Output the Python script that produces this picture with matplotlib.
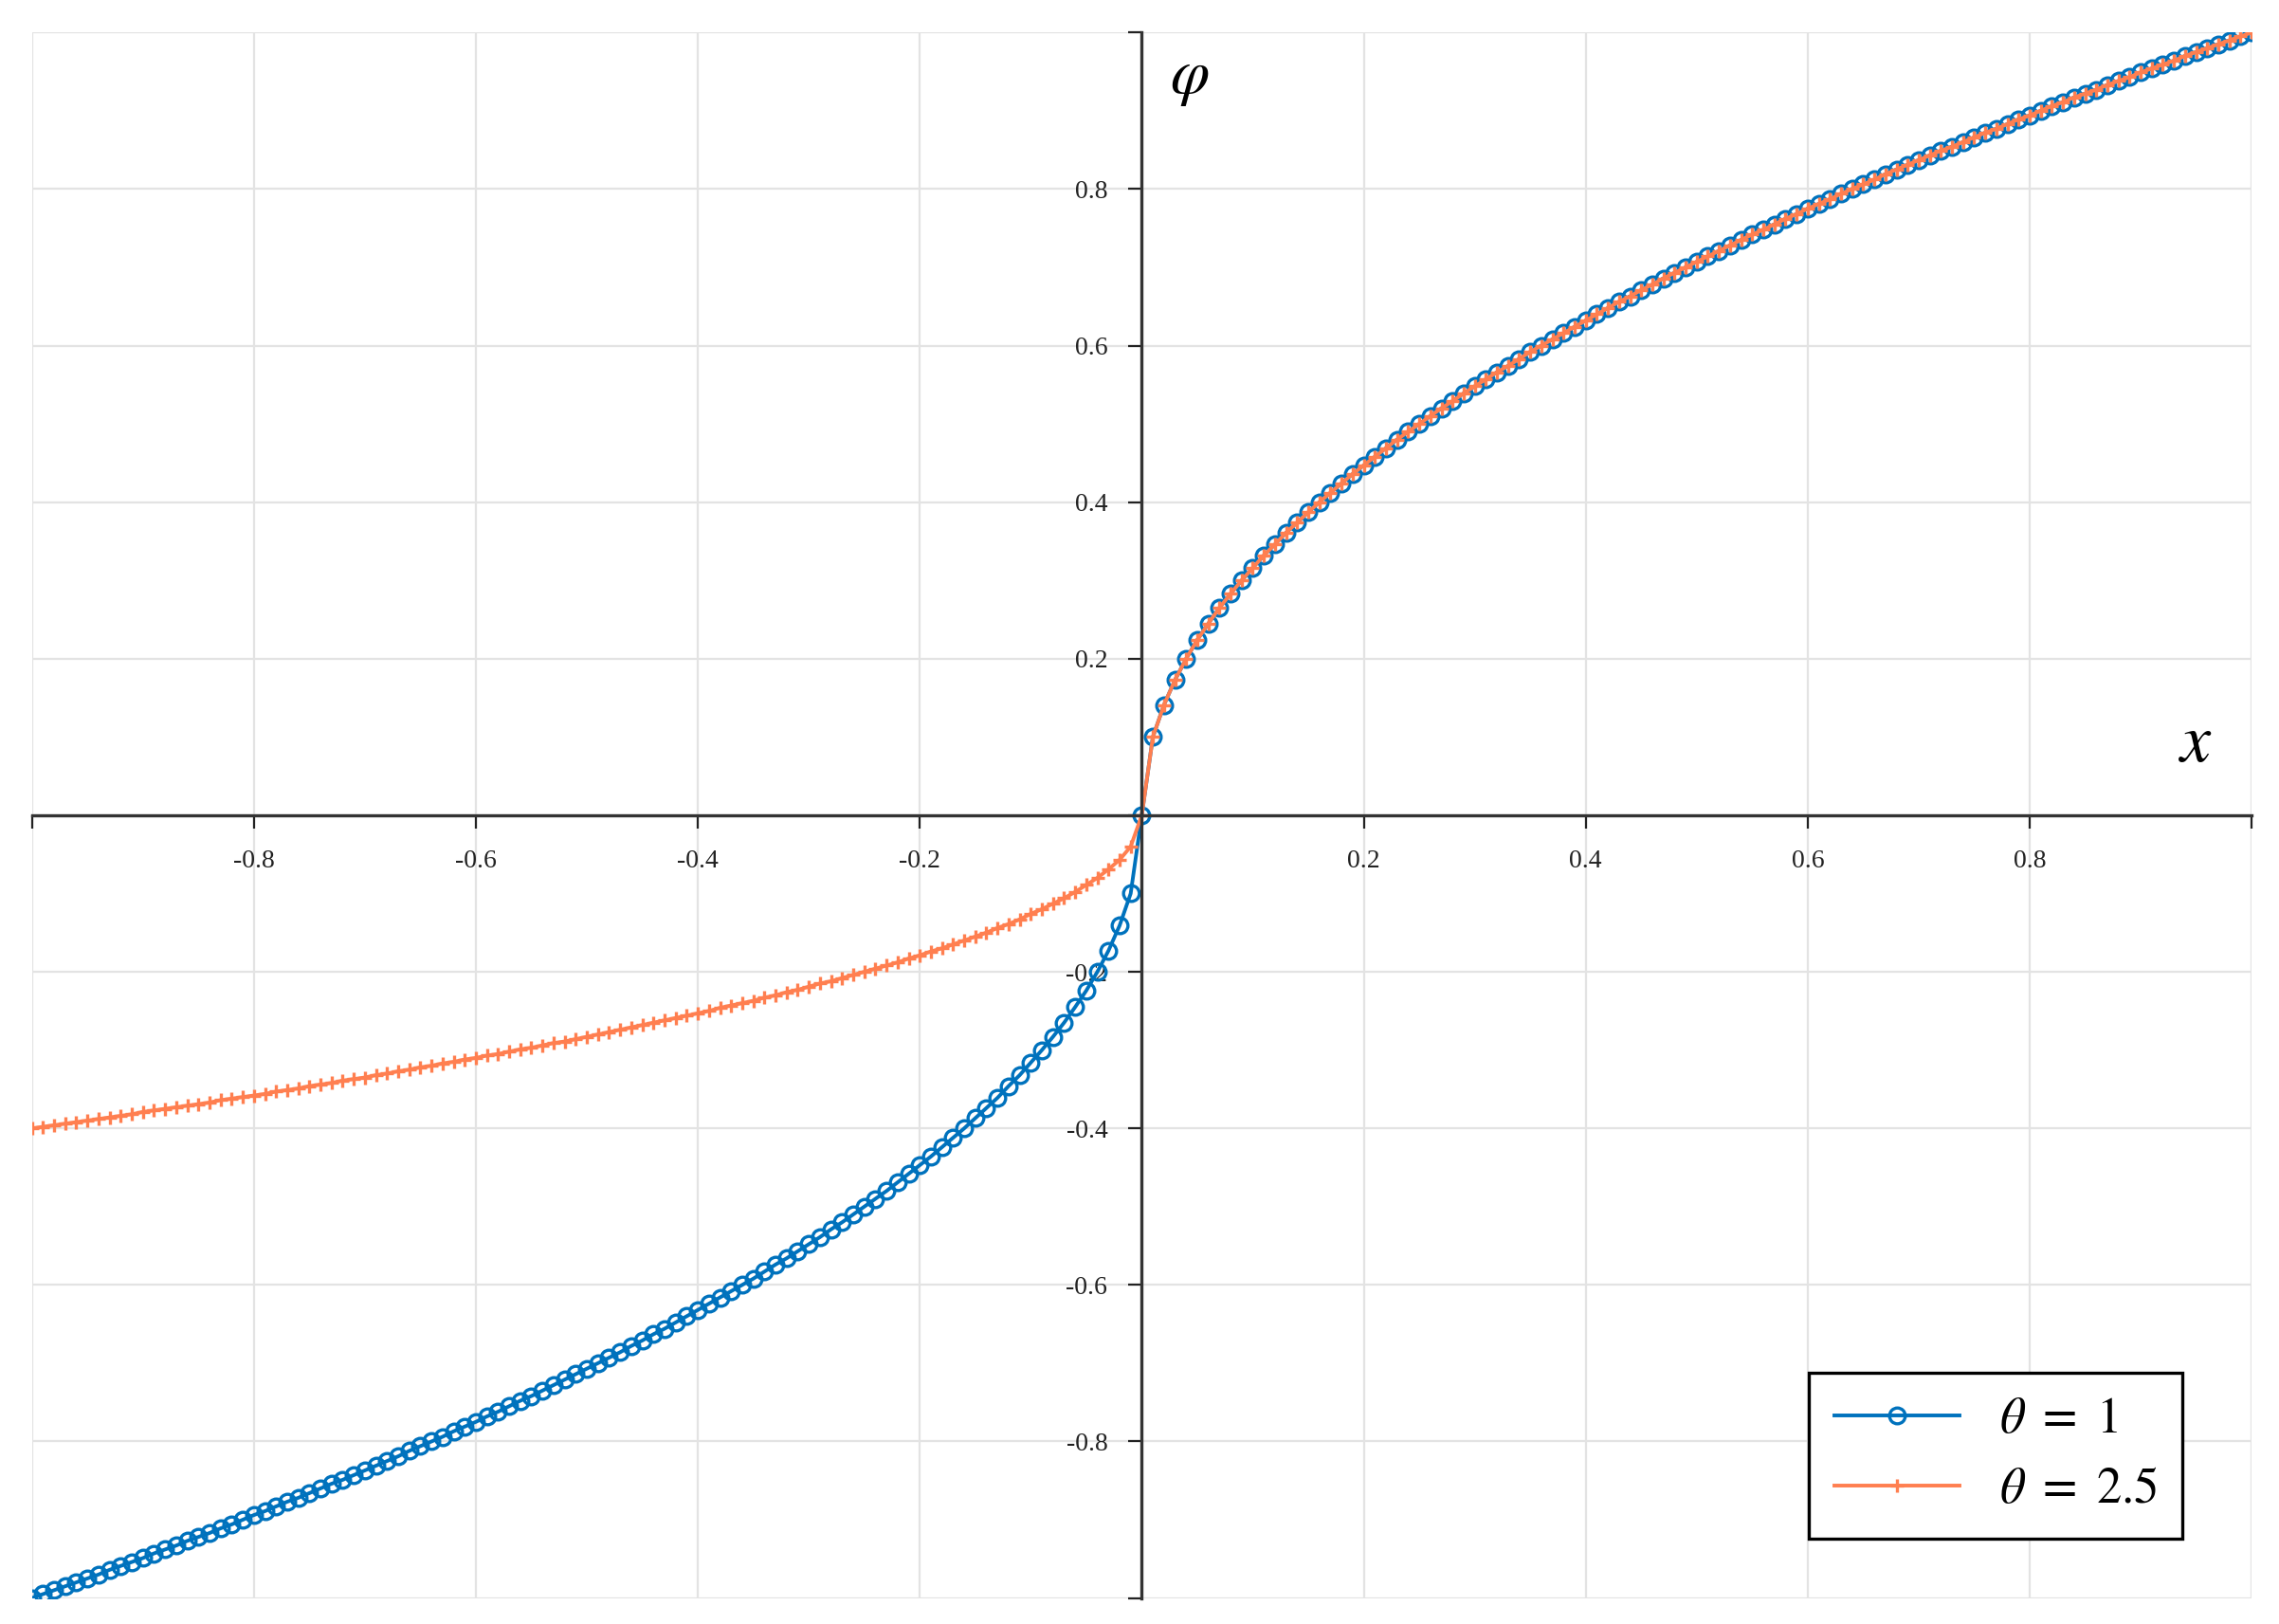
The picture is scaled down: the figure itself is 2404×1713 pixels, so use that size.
import numpy as np
from matplotlib import pyplot as plt

plt.rcParams['font.family'] = ['Liberation Serif', 'DejaVu Serif']
plt.rcParams['mathtext.fontset'] = 'stix'

ABS_X = np.linspace(0, 1, 101)
PHI_POS = [0, 0.100, 0.141, 0.173, 0.200, 0.224, 0.245, 0.265, 0.283, 0.300, 0.316, 0.332, 0.346, 0.361,
           0.374, 0.387, 0.400, 0.412, 0.424, 0.436, 0.447, 0.458, 0.469, 0.480, 0.490, 0.500, 0.510, 0.520,
           0.529, 0.539, 0.548, 0.557, 0.566, 0.574, 0.583, 0.592, 0.600, 0.608, 0.616, 0.624, 0.632, 0.640,
           0.648, 0.656, 0.663, 0.671, 0.678, 0.686, 0.693, 0.700, 0.707, 0.714, 0.721, 0.728, 0.735, 0.742,
           0.748, 0.755, 0.762, 0.768, 0.775, 0.781, 0.787, 0.794, 0.800, 0.806, 0.812, 0.819, 0.825, 0.831,
           0.837, 0.843, 0.849, 0.854, 0.860, 0.866, 0.872, 0.877, 0.883, 0.889, 0.894, 0.900, 0.906, 0.911,
           0.917, 0.922, 0.927, 0.933, 0.938, 0.943, 0.949, 0.954, 0.959, 0.964, 0.970, 0.975, 0.980, 0.985,
           0.990, 0.995, 1.000]
# theta = 2.5 on negative side (magnitudes)
PHI_NEG_25 = [0, 0.040, 0.057, 0.069, 0.080, 0.089, 0.098, 0.106, 0.113, 0.120, 0.126, 0.133, 0.139, 0.144,
              0.150, 0.155, 0.160, 0.165, 0.170, 0.174, 0.179, 0.183, 0.188, 0.192, 0.196, 0.200, 0.204, 0.208,
              0.212, 0.215, 0.219, 0.223, 0.226, 0.230, 0.233, 0.237, 0.240, 0.243, 0.246, 0.250, 0.253, 0.256,
              0.259, 0.262, 0.265, 0.268, 0.271, 0.274, 0.277, 0.280, 0.283, 0.286, 0.289, 0.291, 0.294, 0.297,
              0.299, 0.302, 0.305, 0.307, 0.310, 0.312, 0.315, 0.317, 0.320, 0.322, 0.325, 0.327, 0.330, 0.332,
              0.335, 0.337, 0.339, 0.342, 0.344, 0.346, 0.349, 0.351, 0.353, 0.356, 0.358, 0.360, 0.362, 0.364,
              0.367, 0.369, 0.371, 0.373, 0.375, 0.377, 0.379, 0.382, 0.384, 0.386, 0.388, 0.390, 0.392, 0.394,
              0.396, 0.398, 0.400]

x = np.concatenate([-ABS_X[::-1], ABS_X[1:]])
phi1 = np.concatenate([-np.array(PHI_POS)[::-1], np.array(PHI_POS)[1:]])
phi25 = np.concatenate([-np.array(PHI_NEG_25)[::-1], np.array(PHI_POS)[1:]])

fig = plt.figure(figsize=(12.02, 8.565), dpi=200)
ax = fig.add_axes([0.014, 0.016, 0.974, 0.964])

ax.plot(x, phi1, color='#0072BD', lw=1.4, marker='o', ms=6, mfc='none', mew=1.2, label=r'$\theta\ =\ 1$')
ax.plot(x, phi25, color='#FF7F50', lw=1.4, marker='+', ms=5, mew=1.2, label=r'$\theta\ =\ 2.5$')

ax.set_xlim(-1, 1)
ax.set_ylim(-1, 1)
ticks = [-1, -0.8, -0.6, -0.4, -0.2, 0, 0.2, 0.4, 0.6, 0.8, 1]
labels = ['' if t in (-1, 0, 1) else f'{t:g}' for t in ticks]
ax.set_xticks(ticks)
ax.set_yticks(ticks)
ax.set_xticklabels(labels, fontsize=15)
ax.set_yticklabels(labels, fontsize=15)
ax.grid(True, color='#e3e3e3', lw=0.8)
ax.set_axisbelow(True)
ax.tick_params(direction='out', length=5, pad=8, colors='#222222')

ax.spines['left'].set_position('zero')
ax.spines['bottom'].set_position('zero')
ax.spines['right'].set_visible(False)
ax.spines['top'].set_visible(False)
for s in ['left', 'bottom']:
    ax.spines[s].set_color('#333333')
    ax.spines[s].set_linewidth(1.2)

ax.text(0.025, 0.94, r'$\varphi$', fontsize=24, va='center', ha='left')
ax.text(0.95, 0.09, r'$x$', fontsize=26, va='center', ha='center')

leg = ax.legend(loc='lower right', bbox_to_anchor=(0.98, 0.022), fontsize=19, fancybox=False,
                edgecolor='black', framealpha=1, handlelength=2.5, borderpad=0.5)
leg.get_frame().set_linewidth(1.2)

plt.savefig('out.png')
